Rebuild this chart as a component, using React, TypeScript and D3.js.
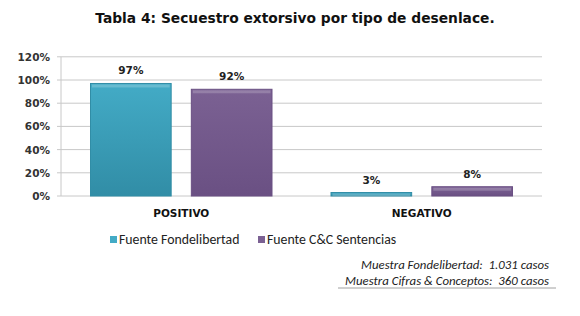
import React from "react";
import * as d3 from "d3";

const categories = ["POSITIVO", "NEGATIVO"];
const series = ["Fuente Fondelibertad", "Fuente C&C Sentencias"];
const fondelibertad = [97, 3];
const cyc = [92, 8];
const yTicks = [0, 20, 40, 60, 80, 100, 120];
const notes = ["Muestra Fondelibertad:  1.031 casos", "Muestra Cifras & Conceptos:  360 casos"];

const W = 580, H = 316;
const m = { left: 61, right: 542, top: 56.8, bottom: 196 };
const colors = ["#43abc6", "#7b6193"];
const dark = ["#318da6", "#6a5083"];

export default function App() {
  const x0 = d3.scaleBand().domain(categories).range([m.left, m.right]).paddingInner(0).paddingOuter(0);
  const x1 = d3.scaleBand().domain(series).range([29.5, x0.bandwidth() - 29.5]).paddingInner(0.2);
  const y = d3.scaleLinear().domain([0, 120]).range([m.bottom, m.top]);
  const values = [fondelibertad, cyc];
  const axisFont = "Tahoma, 'DejaVu Sans', Verdana, sans-serif";
  const calibri = "Carlito, Lato, 'Open Sans', sans-serif";
  return (
    <svg width={W} height={H} style={{ position: "absolute", left: 0, top: 0 }} xmlns="http://www.w3.org/2000/svg">
      <defs>
        {colors.map((c, i) => (
          <linearGradient key={i} id={`g${i}`} x1="0" y1="0" x2="0" y2="1">
            <stop offset="0" stopColor={c} />
            <stop offset="1" stopColor={dark[i]} />
          </linearGradient>
        ))}
      </defs>
      <rect width={W} height={H} fill="#fff" />
      <text x={295} y={23} textAnchor="middle" fontFamily="'DejaVu Sans', Verdana, sans-serif" fontWeight="bold" fontSize={13.8} fill="#111">
        Tabla 4: Secuestro extorsivo por tipo de desenlace.
      </text>
      {yTicks.map((t) => (
        <g key={t}>
          <line x1={m.left - 4} x2={m.right} y1={y(t)} y2={y(t)} stroke="#c8c8c8" strokeWidth={1} />
          <text x={50} y={y(t) + 4} textAnchor="end" fontFamily={axisFont} fontWeight="bold" fontSize={10.5} fill="#333">
            {t}%
          </text>
        </g>
      ))}
      <line x1={m.left} x2={m.left} y1={m.top} y2={m.bottom} stroke="#c8c8c8" />
      {categories.map((c, ci) => (
        <g key={c} transform={`translate(${x0(c)},0)`}>
          {series.map((s, si) => {
            const v = values[si][ci];
            const bx = x1(s)!;
            const bw = x1.bandwidth();
            return (
              <g key={s}>
                <rect x={bx} y={y(v)} width={bw} height={m.bottom - y(v)} fill={`url(#g${si})`} stroke={dark[si]} strokeWidth={1} />
                <rect x={bx + 1.5} y={y(v) + 1} width={bw - 3} height={Math.min(3, m.bottom - y(v) - 1)} fill="#fff" opacity={0.2} />
                <text x={bx + bw / 2} y={y(v) - 9} textAnchor="middle" fontFamily={axisFont} fontWeight="bold" fontSize={10.5} fill="#222">
                  {v}%
                </text>
              </g>
            );
          })}
          <text x={x0.bandwidth() / 2} y={217} textAnchor="middle" fontFamily={axisFont} fontWeight="bold" fontSize={10.5} fill="#111">
            {c}
          </text>
        </g>
      ))}
      {series.map((s, i) => {
        const lx = [110, 258][i];
        return (
          <g key={s}>
            <rect x={lx} y={236} width={7} height={7} fill={colors[i]} />
            <text x={lx + 9} y={243.5} fontFamily={calibri} fontSize={13.8} fill="#222">
              {s}
            </text>
          </g>
        );
      })}
      {notes.map((n, i) => (
        <text key={n} x={549} y={269 + i * 16} textAnchor="end" fontFamily={calibri} fontStyle="italic" fontSize={12.8} fill="#222" style={{ whiteSpace: "pre" }}>
          {n}
        </text>
      ))}
      <line x1={338} x2={556} y1={288} y2={288} stroke="#888" strokeWidth={0.8} />
    </svg>
  );
}
